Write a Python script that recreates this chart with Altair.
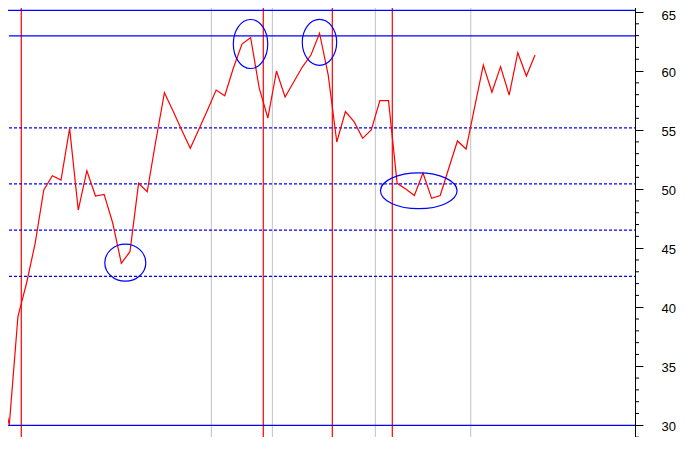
import altair as alt
import pandas as pd

# ---- data ----
price = [33.33, 30.03, 39.20, 42.03, 45.41, 49.93, 51.14, 50.77, 55.15, 48.23,
         51.56, 49.42, 49.56, 47.13, 43.72, 44.70, 50.49, 49.78, 54.08, 58.17,
         56.62, 55.01, 53.46, 55.07, 56.70, 58.39, 57.91, 60.26, 62.29, 62.84,
         58.56, 56.02, 60.00, 57.80, 59.07, 60.34, 61.36, 63.20, 59.67, 53.99,
         56.57, 55.71, 54.30, 55.01, 57.49, 57.49, 50.49, 50.01, 49.46, 51.37,
         49.22, 49.46, 51.79, 54.08, 53.40, 56.96, 60.51, 58.20, 60.37, 57.97,
         61.55, 59.58, 61.36]
index = list(range(len(price)))

red_verticals = [2.39, 30.47, 38.48, 45.44]
gray_verticals = [24.44, 31.52, 43.47, 54.54]

full_levels = [65.14, 30.0]          # solid, whole width
solid_levels = [62.97]               # solid, from the first bar
dashed_levels = [55.18, 50.44, 46.52, 42.62]
level_start = 0.965

ellipse_x = [14.46, 28.99, 36.99, 48.51]
ellipse_y = [43.77, 62.29, 62.43, 49.86]

major_ticks = [30, 35, 40, 45, 50, 55, 60, 65]
minor_ticks = [v for v in range(28, 67) if v % 5 != 0]

# ---- styling ----
ellipse_radii = [(20.5, 18.5), (17.2, 24.5), (17.2, 23.0), (38.3, 17.9)]
X_DOMAIN = [-0.079, 73.6]
Y_DOMAIN = [27.485, 66.016]
PLOT_W = 635
RED = "#FF0000"
BLUE = "#0000FF"
GRAY = "#C0C0C0"


def ellipse_path(rx, ry):
    return (f"M{-rx},0 A{rx},{ry} 0 1,0 {rx},0 "
            f"A{rx},{ry} 0 1,0 {-rx},0 Z")


xs = alt.Scale(domain=X_DOMAIN, nice=False, zero=False)
ys = alt.Scale(domain=Y_DOMAIN, nice=False, zero=False)

yaxis = alt.Axis(
    orient="right",
    values=major_ticks,
    tickSize=8,
    labelFont="Liberation Sans", labelFontSize=13, labelColor="black",
    labelAlign="left", labelBaseline="middle", labelPadding=18,
    labelOffset={"condition": {"test": "datum.value >= 65", "value": 4}, "value": 1.5},
    domainColor="black", tickColor="black", domainWidth=1, tickWidth=1,
    grid=False, title=None, labelFlush=False, labelOverlap=False,
)


def Y(field):
    return alt.Y(field, scale=ys, axis=yaxis)


def X(field):
    return alt.X(field, scale=xs, axis=None)


price_df = pd.DataFrame({"i": index, "v": price})
redv_df = pd.DataFrame({"i": red_verticals})
grayv_df = pd.DataFrame({"i": gray_verticals})
full_df = pd.DataFrame({"v": full_levels})
solid_df = pd.DataFrame({"v": solid_levels, "s": [level_start] * len(solid_levels),
                         "e": [X_DOMAIN[1]] * len(solid_levels)})
dash_df = pd.DataFrame({"v": dashed_levels, "s": [level_start] * len(dashed_levels),
                        "e": [X_DOMAIN[1]] * len(dashed_levels)})
ell_df = pd.DataFrame({"i": ellipse_x, "v": ellipse_y,
                       "shape": [ellipse_path(rx, ry) for rx, ry in ellipse_radii]})
minor_df = pd.DataFrame({"v": minor_ticks})

line = alt.Chart(price_df).mark_line(color=RED, strokeWidth=1.2).encode(
    x=X("i:Q"), y=Y("v:Q"))
gray_rules = alt.Chart(grayv_df).mark_rule(color=GRAY, strokeWidth=1).encode(
    x=X("i:Q"))
red_rules = alt.Chart(redv_df).mark_rule(color=RED, strokeWidth=1.2).encode(
    x=X("i:Q"))
full_rules = alt.Chart(full_df).mark_rule(color=BLUE, strokeWidth=1.2).encode(
    y=Y("v:Q"))
solid_rules = alt.Chart(solid_df).mark_rule(color=BLUE, strokeWidth=1.2).encode(
    x=X("s:Q"), x2="e:Q", y=Y("v:Q"))
dash_rules = alt.Chart(dash_df).mark_rule(color=BLUE, strokeWidth=1.2,
                                          strokeDash=[3, 2]).encode(
    x=X("s:Q"), x2="e:Q", y=Y("v:Q"))
# minor ticks of the right-hand axis
minor = alt.Chart(minor_df).mark_rule(color="black", strokeWidth=1).encode(
    x=alt.value(PLOT_W), x2=alt.value(PLOT_W + 4), y=Y("v:Q"))
ellipses = alt.Chart(ell_df).mark_point(filled=False, color=BLUE, strokeWidth=1.2,
                                        size=4, opacity=1).encode(
    x=X("i:Q"), y=Y("v:Q"),
    shape=alt.Shape("shape:N", scale=None, legend=None))

chart = alt.layer(gray_rules, red_rules, full_rules, solid_rules,
                  dash_rules, minor, line, ellipses).properties(
    width=PLOT_W, height=455,
    autosize=alt.AutoSizeParams(type="none"),
    padding={"left": -8, "top": -8, "right": 42, "bottom": -18},
    background="white",
).configure_view(stroke=None)

chart.save("out.html", embed_options={"renderer": "svg", "actions": False})
